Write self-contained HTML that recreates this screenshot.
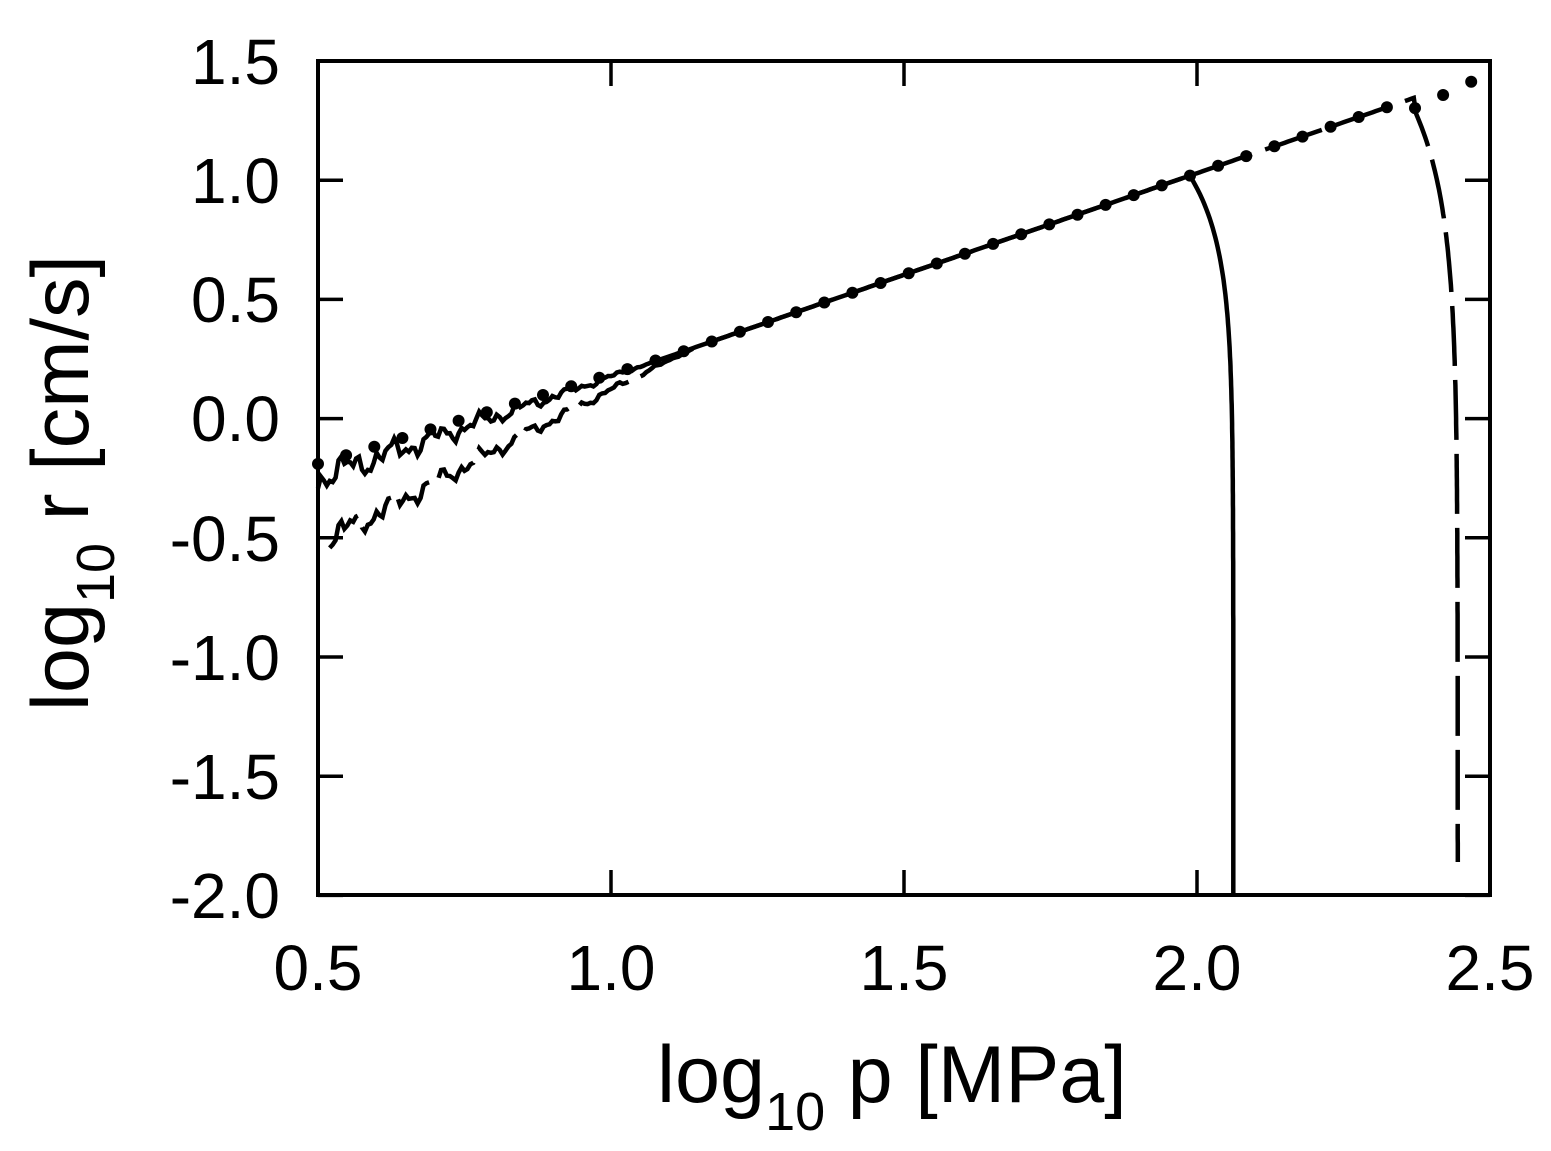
<!DOCTYPE html>
<html><head><meta charset="utf-8"><style>
html,body{margin:0;padding:0;background:#fff}
svg{display:block}
text{font-family:"Liberation Sans",Arial,sans-serif;fill:#000}
</style></head><body>
<svg id="s" width="1551" height="1151" viewBox="0 0 1551 1151" xmlns="http://www.w3.org/2000/svg">
<rect width="1551" height="1151" fill="#fff"/>
<g id="plot"></g>
<rect x="318" y="61" width="1172" height="834" fill="none" stroke="#000" stroke-width="4"/>
<g id="ticks" stroke="#000" stroke-width="3.5"></g>
<g font-size="64" text-anchor="end">
<text x="280" y="84">1.5</text>
<text x="280" y="203">1.0</text>
<text x="280" y="322">0.5</text>
<text x="280" y="441">0.0</text>
<text x="280" y="561">-0.5</text>
<text x="280" y="680">-1.0</text>
<text x="280" y="799">-1.5</text>
<text x="280" y="918">-2.0</text>
</g>
<g font-size="64" text-anchor="middle">
<text x="318" y="990">0.5</text>
<text x="611" y="990">1.0</text>
<text x="904" y="990">1.5</text>
<text x="1197" y="990">2.0</text>
<text x="1490" y="990">2.5</text>
</g>
<text x="657" y="1102" font-size="81">log<tspan font-size="54" dy="28">10</tspan><tspan dy="-28"> p [MPa]</tspan></text>
<text transform="translate(88,483) rotate(-90)" font-size="81" text-anchor="middle">log<tspan font-size="54" dy="26">10</tspan><tspan dy="-26"> r [cm/s]</tspan></text>
</svg>
<script>
var X=function(v){return 318+(v-0.5)*586},Y=function(v){return 61+(1.5-v)*238.4};
var L=function(x){return -0.25+0.853*(x-0.5)};
var ns="http://www.w3.org/2000/svg",plot=document.getElementById('plot'),tk=document.getElementById('ticks');
function add(p,tag,at){var e=document.createElementNS(ns,tag);for(var k in at)e.setAttribute(k,at[k]);p.appendChild(e);return e}
for(var i=0;i<5;i++){var x=X(0.5+i*0.5);add(tk,'line',{x1:x,y1:895,x2:x,y2:870});add(tk,'line',{x1:x,y1:61,x2:x,y2:86});}
for(var i=0;i<8;i++){var y=Y(1.5-i*0.5);add(tk,'line',{x1:318,y1:y,x2:343,y2:y});add(tk,'line',{x1:1490,y1:y,x2:1465,y2:y});}
function nz(x){return 0.03*Math.sin(x*83)+0.02*Math.sin(x*211+1)+0.015*Math.sin(x*397+2)}
var d='';
for(var x=0.5;x<=1.99;x+=0.005){var amp=x<1.1?(1.1-x)/0.6:0;var y=L(x)+amp*nz(x)*1.3;d+=(d?'L':'M')+X(x).toFixed(1)+' '+Y(y).toFixed(1);}
for(var y=1.0;y>=-2.0;y-=0.02){var x=2.062-0.072*Math.exp(-(1.01-y)*3.4);d+='L'+X(x).toFixed(1)+' '+Y(y).toFixed(1);}
d+='L'+X(2.062)+' '+895;
add(plot,'path',{d:d,fill:'none',stroke:'#000','stroke-width':4.5});
var d2='';
for(var x=0.52;x<=2.37;x+=0.005){var off=x<1.15?-0.27*Math.pow((1.15-x)/0.63,1.1):0;var amp=x<1.15?(1.15-x)/0.65:0;var y=L(x)+off+amp*nz(x+0.3)*1.2;d2+=(d2?'L':'M')+X(x).toFixed(1)+' '+Y(y).toFixed(1);}
for(var y=1.28;y>=-1.88;y-=0.02){var x=2.445-0.075*Math.exp(-(1.3-y)*2.5);d2+='L'+X(x).toFixed(1)+' '+Y(y).toFixed(1);}
add(plot,'path',{d:d2,fill:'none',stroke:'#000','stroke-width':4.5,'stroke-dasharray':'60 14'});
for(var x=0.5;x<=2.49;x+=0.048){var y=L(x)+(x<1.1?0.06*(1.1-x)/0.6:0);if(x>2.37)y=1.3+(x-2.37)*1.15;add(plot,'circle',{cx:X(x).toFixed(1),cy:Y(y).toFixed(1),r:6,fill:'#000'});}
</script>
</body></html>
